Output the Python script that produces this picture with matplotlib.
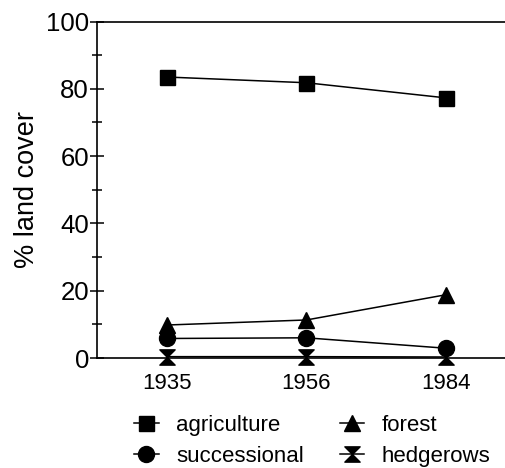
import matplotlib.pyplot as plt
from matplotlib.path import Path

plt.rcParams["font.family"] = ["Liberation Sans", "DejaVu Sans"]

years = ["1935", "1956", "1984"]
agriculture = [83.5, 81.8, 77.3]
forest = [9.8, 11.3, 18.8]
successional = [5.8, 6.0, 2.9]
hedgerows = [0.4, 0.4, 0.3]

# hourglass marker for hedgerows
hourglass = Path(
    [(-1, 1), (1, 1), (0, 0), (1, -1), (-1, -1), (0, 0), (-1, 1)],
    [Path.MOVETO, Path.LINETO, Path.LINETO, Path.LINETO, Path.LINETO, Path.LINETO, Path.CLOSEPOLY],
)

fig = plt.figure(figsize=(5.06, 4.68), dpi=100)
ax = fig.add_axes([97 / 506, 1 - 358 / 468, 1 - 97 / 506, (358 - 21.5) / 468])

x = range(len(years))
style = dict(color="black", lw=1.1, clip_on=False)
ax.plot(x, agriculture, marker="s", ms=10.8, label="agriculture", **style)
ax.plot(x, successional, marker="o", ms=11.5, label="successional", **style)
ax.plot(x, forest, marker="^", ms=11, label="forest", **style)
ax.plot(x, hedgerows, marker=hourglass, ms=11, label="hedgerows", **style)

ax.set_xlim(-0.5, 2.43)
ax.set_ylim(0, 100)
ax.set_xticks(list(x))
ax.set_xticklabels(years)
ax.set_yticks(range(0, 101, 20))
ax.set_yticks(range(10, 100, 20), minor=True)
ax.tick_params(axis="y", which="major", direction="inout", length=9.5, width=1.1, labelsize=18.5, pad=1)
ax.tick_params(axis="y", which="minor", direction="inout", length=6.5, width=1.1)
ax.tick_params(axis="x", length=0, labelsize=16, pad=11)
ax.spines["right"].set_visible(False)
for s in ["left", "top", "bottom"]:
    ax.spines[s].set_linewidth(1.2)
ax.set_ylabel("% land cover", fontsize=19.5, labelpad=4)

fig.legend(
    loc="upper left",
    bbox_to_anchor=(123 / 506, 1 - 404 / 468),
    ncol=2,
    frameon=False,
    fontsize=16,
    handlelength=1.1,
    handletextpad=0.8,
    columnspacing=1.6,
    labelspacing=0.45,
    borderpad=0,
)

fig.savefig("out.png", dpi=100)
